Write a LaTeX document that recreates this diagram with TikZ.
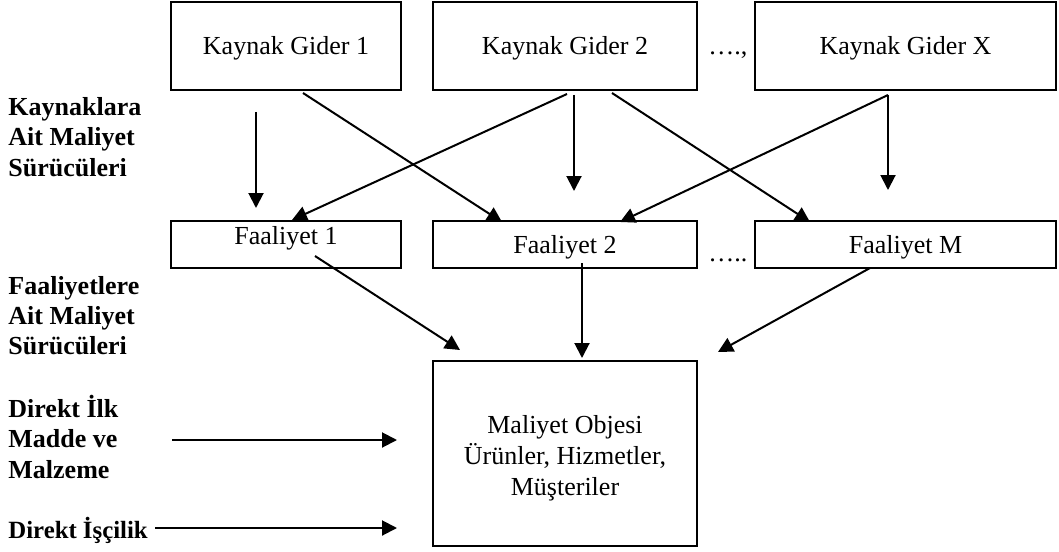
\documentclass[tikz,border=0pt]{standalone}
\usepackage{fontspec}
\setmainfont{Liberation Serif}
\usetikzlibrary{arrows.meta}
\begin{document}
\begin{tikzpicture}[x=0.5pt,y=-0.5pt,
  box/.style={draw, line width=1pt, inner sep=0pt, font=\fontsize{13pt}{15.5pt}\selectfont},
  lbl/.style={anchor=base west, inner sep=0pt, font=\fontsize{13pt}{15pt}\selectfont\bfseries},
  dots/.style={anchor=base west, inner sep=0pt, font=\fontsize{13pt}{15pt}\selectfont},
  arr/.style={line width=1pt, -{Triangle[length=7.5pt,width=7.5pt]}}]
\useasboundingbox (0,0) rectangle (1059,551);
% top row
\node[box, minimum width=115pt, minimum height=44pt, text height=12pt, text depth=3pt] (kg1) at (286,46) {Kaynak Gider 1};
\node[box, minimum width=132pt, minimum height=44pt, text height=12pt, text depth=3pt] (kg2) at (565,46) {Kaynak Gider 2};
\node[box, minimum width=150.5pt, minimum height=44pt, text height=12pt, text depth=3pt] (kgx) at (905.5,46) {Kaynak Gider X};
\node[dots] (d1) at (708,55) {….,};
% middle row
\node[box, minimum width=115pt, minimum height=23.5pt, text height=5pt, text depth=5pt] (f1) at (286,244.5) {Faaliyet 1};
\node[box, minimum width=132pt, minimum height=23.5pt, text height=11.5pt, text depth=3pt] (f2) at (565,244.5) {Faaliyet 2};
\node[box, minimum width=150.5pt, minimum height=23.5pt, text height=11.5pt, text depth=3pt] (fm) at (905.5,244.5) {Faaliyet M};
\node[dots] (d2) at (708,261) {…..};
% bottom
\node[box, minimum width=132pt, minimum height=92.5pt, align=center] (mo) at (565,453.5) {\rule{0pt}{14pt}Maliyet Objesi\\Ürünler, Hizmetler,\\Müşteriler};
% left labels
\node[lbl] (l1a) at (8,116) {Kaynaklara};
\node[lbl] (l1b) at (8,146) {Ait Maliyet};
\node[lbl] (l1c) at (8,176) {Sürücüleri};
\node[lbl] (l2a) at (8,294) {Faaliyetlere};
\node[lbl] (l2b) at (8,324) {Ait Maliyet};
\node[lbl] (l2c) at (8,354) {Sürücüleri};
\node[lbl] (l3a) at (8,417) {Direkt İlk};
\node[lbl] (l3b) at (8,447) {Madde ve};
\node[lbl] (l3c) at (8,478) {Malzeme};
\node[lbl, font=\fontsize{12.4pt}{15pt}\selectfont\bfseries] (l4) at (8,538) {Direkt İşçilik};
% connector ends
\coordinate (a1s) at (256,112); \coordinate (a1e) at (256,208);
\coordinate (a2s) at (303,93);  \coordinate (a2e) at (502,222);
\coordinate (a3s) at (567,94);  \coordinate (a3e) at (292,220);
\coordinate (a4s) at (574,95);  \coordinate (a4e) at (574,191);
\coordinate (a5s) at (612,93);  \coordinate (a5e) at (810,222);
\coordinate (a6s) at (888,95);  \coordinate (a6e) at (620,222);
\coordinate (a7e) at (888,190);
\coordinate (a8s) at (315,256); \coordinate (a8e) at (460,350);
\coordinate (a9s) at (582,263); \coordinate (a9e) at (582,358);
\coordinate (a10s) at (870,268); \coordinate (a10e) at (718,352);
\coordinate (a11s) at (172,440); \coordinate (a11e) at (397,440);
\coordinate (a12s) at (155,528); \coordinate (a12e) at (397,528);
\draw[arr] (a1s) -- (a1e);
\draw[arr] (a2s) -- (a2e);
\draw[arr] (a3s) -- (a3e);
\draw[arr] (a4s) -- (a4e);
\draw[arr] (a5s) -- (a5e);
\draw[arr] (a6s) -- (a6e);
\draw[arr] (a6s) -- (a7e);
\draw[arr] (a8s) -- (a8e);
\draw[arr] (a9s) -- (a9e);
\draw[arr] (a10s) -- (a10e);
\draw[arr] (a11s) -- (a11e);
\draw[arr] (a12s) -- (a12e);
\end{tikzpicture}
\end{document}
